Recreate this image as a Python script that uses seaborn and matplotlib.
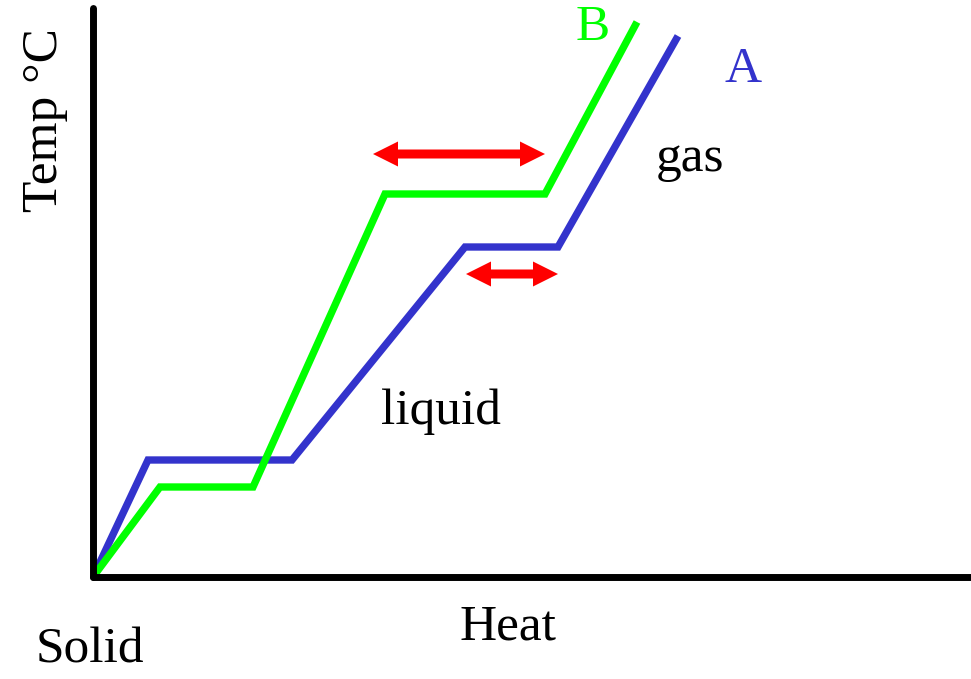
import matplotlib
matplotlib.use("Agg")
import matplotlib.pyplot as plt
import seaborn as sns
import pandas as pd

# Heating curves (heat vs temperature, arbitrary units)
heat_A = [0, 55, 199, 372, 465, 585]
temp_A = [0, 117, 117, 330, 330, 541]
heat_B = [0, 67, 160, 292, 452, 544]
temp_B = [0, 90, 90, 383, 383, 555]
series = ["A", "B"]
colors = {"A": "#3333cc", "B": "#00ff00"}

# double arrows marking the boiling plateaus: (x_start, x_end, y)
arrow_B = (280, 452, 423)
arrow_A = (373, 465, 303)

df = pd.concat([
    pd.DataFrame({"Heat": heat_A, "Temp": temp_A, "sub": "A"}),
    pd.DataFrame({"Heat": heat_B, "Temp": temp_B, "sub": "B"}),
])

sns.set_theme(style="white")
plt.rcParams["font.family"] = ["Liberation Serif", "DejaVu Serif"]

W, H = 971, 679
fig = plt.figure(figsize=(W / 100, H / 100), dpi=100)
x0, y0, top = 93, 577, 8
ax = fig.add_axes([x0 / W, (H - y0) / H, (W - x0) / W, (y0 - top) / H])
ax.set_xlim(0, W - x0)
ax.set_ylim(0, y0 - top)

sns.lineplot(data=df, x="Heat", y="Temp", hue="sub", palette=colors,
             hue_order=series, estimator=None, sort=False, linewidth=5.3,
             legend=False, ax=ax, solid_joinstyle="miter", solid_capstyle="butt")

for xs, xe, y in (arrow_B, arrow_A):
    mid = (xs + xe) / 2
    for end in (xs, xe):
        ax.arrow(mid, y, end - mid, 0, width=9, head_width=25, head_length=25,
                 length_includes_head=True, color="#ff0000", lw=0)

for side in ("top", "right"):
    ax.spines[side].set_visible(False)
for side in ("left", "bottom"):
    ax.spines[side].set_linewidth(5.0)
    ax.spines[side].set_color("black")
    ax.spines[side].set_capstyle("round")
ax.set_xticks([])
ax.set_yticks([])
ax.set_xlabel("")
ax.set_ylabel("")

fs = 37
def ftext(px, py, s, **kw):
    fig.text(px / W, 1 - py / H, s, ha="center", va="center", fontsize=fs, **kw)

ftext(593, 28, "B", color="#00ff00")
ftext(743, 70, "A", color="#3333cc")
ftext(690, 159, "gas", color="black")
ftext(441, 412, "liquid", color="black")
ftext(90, 650, "Solid", color="black")
ftext(508, 627, "Heat", color="black")
ftext(45, 120, "Temp °C", color="black", rotation=90)

fig.savefig("out.png", dpi=100)
